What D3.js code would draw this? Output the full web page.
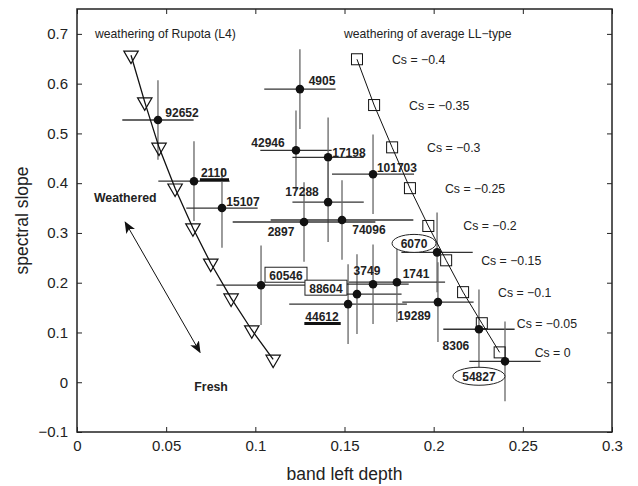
<!DOCTYPE html>
<html>
<head>
<meta charset="utf-8">
<script src="https://cdn.jsdelivr.net/npm/d3@7"></script>
<style>
body { margin: 0; background: #fff; }
text { font-family: "Liberation Sans", Arial, sans-serif; }
</style>
</head>
<body>
<div id="chart"></div>
<script>

const width = 638, height = 486;
const margin = {top: 9, right: 26, bottom: 54, left: 77};

// weathering of Rupota (L4)
const rupX = [0.0303, 0.038, 0.046, 0.055, 0.065, 0.075, 0.0864, 0.098, 0.110];
const rupY = [0.657, 0.563, 0.472, 0.390, 0.310, 0.239, 0.169, 0.105, 0.046];

// weathering of average LL-type
const llX = [0.157, 0.1666, 0.1767, 0.1867, 0.197, 0.207, 0.2165, 0.227, 0.237];
const llY = [0.649, 0.557, 0.472, 0.390, 0.314, 0.245, 0.181, 0.1186, 0.060];
const llCs = ["−0.4", "−0.35", "−0.3", "−0.25", "−0.2", "−0.15", "−0.1", "−0.05", "0"];

// meteorites
const metName = ["92652", "2110", "15107", "4905", "42946", "17198", "17288", "2897", "74096", "101703",
	"6070", "60546", "44612", "88604", "3749", "1741", "19289", "8306", "54827"];
const metX = [0.0454, 0.0656, 0.0813, 0.125, 0.1228, 0.1408, 0.1408, 0.1273, 0.1486, 0.166,
	0.2019, 0.1032, 0.152, 0.157, 0.166, 0.1794, 0.2024, 0.2254, 0.240];
const metY = [0.527, 0.404, 0.350, 0.589, 0.466, 0.452, 0.362, 0.322, 0.326, 0.418,
	0.261, 0.195, 0.157, 0.177, 0.197, 0.201, 0.161, 0.1065, 0.042];
const metXErr = [0.02, 0.02, 0.02, 0.02, 0.02, 0.02, 0.02, 0.04, 0.04, 0.023,
	0.02, 0.025, 0.033, 0.025, 0.02, 0.027, 0.02, 0.02, 0.02];
const metYErr = [0.08, 0.08, 0.08, 0.08, 0.08, 0.08, 0.08, 0.08, 0.08, 0.08,
	0.08, 0.08, 0.08, 0.08, 0.08, 0.08, 0.08, 0.08, 0.08];
// label anchor (data units)
const labX = [0.0589, 0.0768, 0.0931, 0.1374, 0.1071, 0.1525, 0.1262, 0.1144, 0.1637, 0.1794,
	0.189, 0.1172, 0.1374, 0.1396, 0.1626, 0.1901, 0.189, 0.2125, 0.2254];
const labY = [0.543, 0.422, 0.364, 0.607, 0.482, 0.462, 0.384, 0.302, 0.306, 0.432,
	0.279, 0.215, 0.133, 0.189, 0.225, 0.219, 0.135, 0.0744, 0.012];

const boxed = ["60546", "88604"];
const circled = ["6070", "54827"];
const underlined = ["2110", "44612"];

const xTicks = [0, 0.05, 0.1, 0.15, 0.2, 0.25, 0.3];
const yTicks = [-0.1, 0, 0.1, 0.2, 0.3, 0.4, 0.5, 0.6, 0.7];

const svg = d3.select("#chart").append("svg")
	.attr("width", width)
	.attr("height", height)
	.style("background", "#fff");

const x = d3.scaleLinear().domain([0, 0.3]).range([margin.left, width - margin.right]);
const y = d3.scaleLinear().domain([-0.1, 0.75]).range([height - margin.bottom, margin.top]);

// AXES (ticks inward on all four sides)
const tk = 5;
svg.append("g").attr("transform", `translate(0,${y(-0.1)})`)
	.call(d3.axisBottom(x).tickValues(xTicks).tickSize(-tk).tickPadding(8).tickFormat(d3.format("")))
	.call(g => g.select(".domain").remove());
svg.append("g").attr("transform", `translate(0,${y(0.75)})`)
	.call(d3.axisTop(x).tickValues(xTicks).tickSize(-tk).tickFormat(""))
	.call(g => g.select(".domain").remove());
svg.append("g").attr("transform", `translate(${x(0)},0)`)
	.call(d3.axisLeft(y).tickValues(yTicks).tickSize(-tk).tickPadding(9).tickFormat(d => d3.format("")(d).replace("-", "−")))
	.call(g => g.select(".domain").remove());
svg.append("g").attr("transform", `translate(${x(0.3)},0)`)
	.call(d3.axisRight(y).tickValues(yTicks).tickSize(-tk).tickFormat(""))
	.call(g => g.select(".domain").remove());

svg.selectAll(".tick line").attr("stroke", "#222").attr("stroke-width", 1);
svg.selectAll(".tick text").attr("font-size", 15).attr("fill", "#222")
	.style("font-family", "Liberation Sans, Arial, sans-serif");

svg.append("rect")
	.attr("x", x(0)).attr("y", y(0.75))
	.attr("width", x(0.3) - x(0)).attr("height", y(-0.1) - y(0.75))
	.attr("fill", "none").attr("stroke", "#222").attr("stroke-width", 1.5);

svg.append("text")
	.attr("x", (x(0) + x(0.3)) / 2).attr("y", 480)
	.attr("text-anchor", "middle").attr("font-size", 17.5).attr("fill", "#222")
	.text("band left depth");
svg.append("text")
	.attr("transform", `translate(28,${(y(-0.1) + y(0.75)) / 2}) rotate(-90)`)
	.attr("text-anchor", "middle").attr("font-size", 17.5).attr("fill", "#222")
	.text("spectral slope");

// ERROR BARS (horizontal darker, vertical grey as in the print)
const bars = svg.append("g").attr("stroke-width", 1.3);
metName.forEach((n, i) => {
	bars.append("line")
		.attr("stroke", "#333")
		.attr("x1", x(metX[i] - metXErr[i])).attr("x2", x(metX[i] + metXErr[i]))
		.attr("y1", y(metY[i])).attr("y2", y(metY[i]));
	bars.append("line")
		.attr("stroke", "#666")
		.attr("x1", x(metX[i])).attr("x2", x(metX[i]))
		.attr("y1", y(metY[i] - metYErr[i])).attr("y2", y(metY[i] + metYErr[i]));
});

// WEATHERING TRACKS
const line = d3.line().x(d => x(d[0])).y(d => y(d[1]));
svg.append("path")
	.datum(d3.zip(rupX, rupY))
	.attr("d", line).attr("fill", "none").attr("stroke", "#111").attr("stroke-width", 1.3);
svg.append("path")
	.datum(d3.zip(llX, llY))
	.attr("d", line).attr("fill", "none").attr("stroke", "#111").attr("stroke-width", 1);

const tri = d3.symbol().type(d3.symbolTriangle).size(90);
svg.append("g").selectAll("path")
	.data(d3.zip(rupX, rupY))
	.enter().append("path")
	.attr("d", tri)
	.attr("transform", d => `translate(${x(d[0])},${y(d[1])}) rotate(180)`)
	.attr("fill", "none").attr("stroke", "#111").attr("stroke-width", 1.2);

svg.append("g").selectAll("rect")
	.data(d3.zip(llX, llY))
	.enter().append("rect")
	.attr("x", d => x(d[0]) - 5.5).attr("y", d => y(d[1]) - 5.5)
	.attr("width", 11).attr("height", 11)
	.attr("fill", "none").attr("stroke", "#111").attr("stroke-width", 1);

svg.append("g").selectAll("text")
	.data(d3.zip(llX, llY, llCs))
	.enter().append("text")
	.attr("x", d => x(d[0]) + 35).attr("y", d => y(d[1]) + 4.5)
	.attr("font-size", 12.3).attr("fill", "#222")
	.text(d => "Cs = " + d[2]);

// METEORITE POINTS
svg.append("g").selectAll("circle")
	.data(d3.range(metName.length))
	.enter().append("circle")
	.attr("cx", i => x(metX[i])).attr("cy", i => y(metY[i]))
	.attr("r", 4.3).attr("fill", "#111");

// LABELS
const labels = svg.append("g");
metName.forEach((n, i) => {
	const cx = x(labX[i]), cy = y(labY[i]);
	if (boxed.includes(n)) {
		labels.append("rect")
			.attr("x", cx - 21).attr("y", cy - 8)
			.attr("width", 42).attr("height", 15)
			.attr("fill", "#fff").attr("stroke", "#222").attr("stroke-width", 1);
	}
	if (circled.includes(n)) {
		labels.append("ellipse")
			.attr("cx", cx).attr("cy", cy)
			.attr("rx", n.length > 4 ? 26 : 22).attr("ry", 9)
			.attr("fill", "#fff").attr("stroke", "#222").attr("stroke-width", 1);
	}
	const t = labels.append("text")
		.attr("x", cx).attr("y", cy + 4.5)
		.attr("text-anchor", "middle")
		.attr("font-size", 12).attr("font-weight", "bold").attr("fill", "#222")
		.text(n);
	if (underlined.includes(n)) {
		const w = t.node().getComputedTextLength();
		labels.append("line")
			.attr("x1", cx - w / 2 - 1).attr("x2", cx + w / 2 + 2)
			.attr("y1", cy + 7.5).attr("y2", cy + 7.5)
			.attr("stroke", "#111").attr("stroke-width", 3);
	}
});

// ANNOTATIONS
svg.append("text").attr("x", x(0.0101)).attr("y", y(0.7) + 4)
	.attr("font-size", 12.2).attr("fill", "#222").text("weathering of Rupota (L4)");
svg.append("text").attr("x", x(0.1497)).attr("y", y(0.7) + 4)
	.attr("font-size", 12.2).attr("fill", "#222").text("weathering of average LL−type");
svg.append("text").attr("x", x(0.0095)).attr("y", y(0.362))
	.attr("font-size", 12.3).attr("font-weight", "bold").attr("fill", "#222").text("Weathered");
svg.append("text").attr("x", x(0.0752)).attr("y", y(-0.018))
	.attr("text-anchor", "middle")
	.attr("font-size", 12.3).attr("font-weight", "bold").attr("fill", "#222").text("Fresh");

svg.append("defs").append("marker")
	.attr("id", "head").attr("viewBox", "0 0 12 10")
	.attr("refX", 11).attr("refY", 5)
	.attr("markerWidth", 12).attr("markerHeight", 10)
	.attr("markerUnits", "userSpaceOnUse")
	.attr("orient", "auto-start-reverse")
	.append("path").attr("d", "M0,0 L12,5 L0,10 L3,5 Z").attr("fill", "#111");

svg.append("line")
	.attr("x1", x(0.027)).attr("y1", y(0.322))
	.attr("x2", x(0.069)).attr("y2", y(0.060))
	.attr("stroke", "#111").attr("stroke-width", 1)
	.attr("marker-start", "url(#head)").attr("marker-end", "url(#head)");

</script>
</body>
</html>
